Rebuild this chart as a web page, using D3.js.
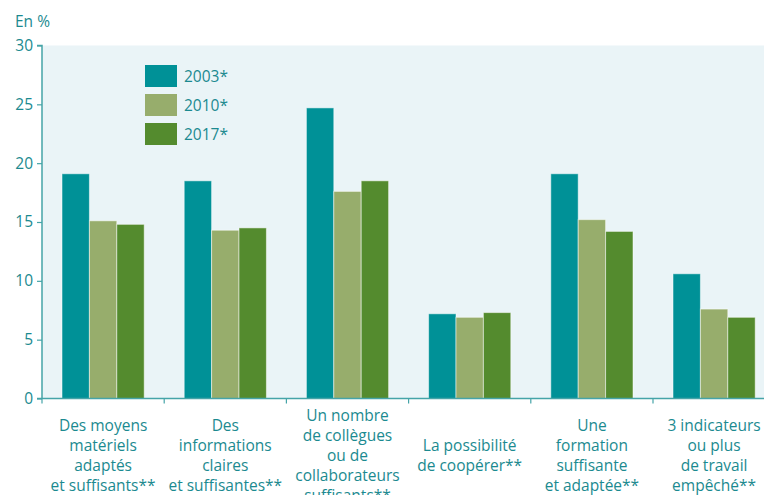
<!DOCTYPE html>
<html><head><meta charset="utf-8">
<script src="https://cdn.jsdelivr.net/npm/d3@7"></script>
<style>
body{margin:0;background:#fff;}
svg{display:block;font-family:"Open Sans","Noto Sans",sans-serif;}
</style></head>
<body>
<script>
const categories = [
  ["Des moyens","matériels","adaptés","et suffisants**"],
  ["Des","informations","claires","et suffisantes**"],
  ["Un nombre","de collègues","ou de","collaborateurs","suffisants**"],
  ["La possibilité","de coopérer**"],
  ["Une","formation","suffisante","et adaptée**"],
  ["3 indicateurs","ou plus","de travail","empêché**"]
];
const seriesNames = ["2003*","2010*","2017*"];
const values2003 = [19.1, 18.5, 24.7, 7.2, 19.1, 10.6];
const values2010 = [15.1, 14.3, 17.6, 6.9, 15.2, 7.6];
const values2017 = [14.8, 14.5, 18.5, 7.3, 14.2, 6.9];
const yTicks = [0,5,10,15,20,25,30];
const colors = ["#009197","#97ad6c","#548b2e"];

(function(){
const W=764,H=495;
const svg=d3.select("body").append("svg").attr("width",W).attr("height",H);
const mLeft=42, mTop=45.5, mBottom=398.5, bandW=122.2;
const x=d3.scaleBand().domain(d3.range(categories.length)).range([mLeft,mLeft+bandW*categories.length]);
const xs=d3.scaleBand().domain(d3.range(3)).range([20,bandW-20]);
const y=d3.scaleLinear().domain([0,30]).range([mBottom,mTop]);
const textColor="#1b8a90", axisColor="#45a4a8";

svg.append("rect").attr("x",mLeft).attr("y",mTop).attr("width",W-mLeft).attr("height",mBottom-mTop).attr("fill","#eaf4f7");

const series=[values2003,values2010,values2017];
series.forEach((vals,si)=>{
  svg.append("g").selectAll("rect").data(vals).join("rect")
    .attr("x",(d,i)=>x(i)+xs(si))
    .attr("width",xs.bandwidth())
    .attr("y",d=>y(d))
    .attr("height",d=>mBottom-y(d))
    .attr("fill",colors[si])
    .attr("stroke","rgba(255,255,255,0.5)").attr("stroke-width",1);
});

// y axis
const ya=svg.append("g").attr("transform",`translate(${mLeft},0)`)
  .call(d3.axisLeft(y).tickValues(yTicks).tickSize(5).tickPadding(4));
ya.select(".domain").attr("stroke",axisColor).attr("stroke-width",1.5).attr("d",`M-5,${mTop}H0V${mBottom}`);
ya.selectAll(".tick line").attr("stroke",axisColor).attr("stroke-width",1.2);
ya.selectAll(".tick text").attr("fill",textColor).attr("font-size",15.5).attr("font-family","Open Sans, sans-serif");

// x axis
const xa=svg.append("g").attr("transform",`translate(0,${mBottom})`);
xa.append("line").attr("x1",mLeft-5).attr("x2",W).attr("y1",0).attr("y2",0).attr("stroke",axisColor).attr("stroke-width",1.5);
d3.range(categories.length+1).forEach(i=>{
  const xx=mLeft+i*bandW;
  xa.append("line").attr("x1",xx).attr("x2",xx).attr("y1",0).attr("y2",5).attr("stroke",axisColor).attr("stroke-width",1.2);
});

// category labels
categories.forEach((lines,i)=>{
  const cx=x(i)+bandW/2;
  const n=lines.length, lh=20, center=455.5;
  const t=svg.append("text").attr("text-anchor","middle").attr("fill",textColor).attr("font-size",15.5);
  lines.forEach((l,j)=>{
    t.append("tspan").attr("x",cx).attr("y",center+(j-(n-1)/2)*lh+5.5).text(l);
  });
});

svg.append("text").attr("x",15).attr("y",27).attr("fill",textColor).attr("font-size",15.5).text("En %");

// legend
seriesNames.forEach((s,i)=>{
  const ly=65+i*29;
  svg.append("rect").attr("x",145).attr("y",ly).attr("width",32).attr("height",22).attr("fill",colors[i]);
  svg.append("text").attr("x",184).attr("y",ly+16.5).attr("fill",textColor).attr("font-size",15.5).text(s);
});
})();
</script>
</body></html>
